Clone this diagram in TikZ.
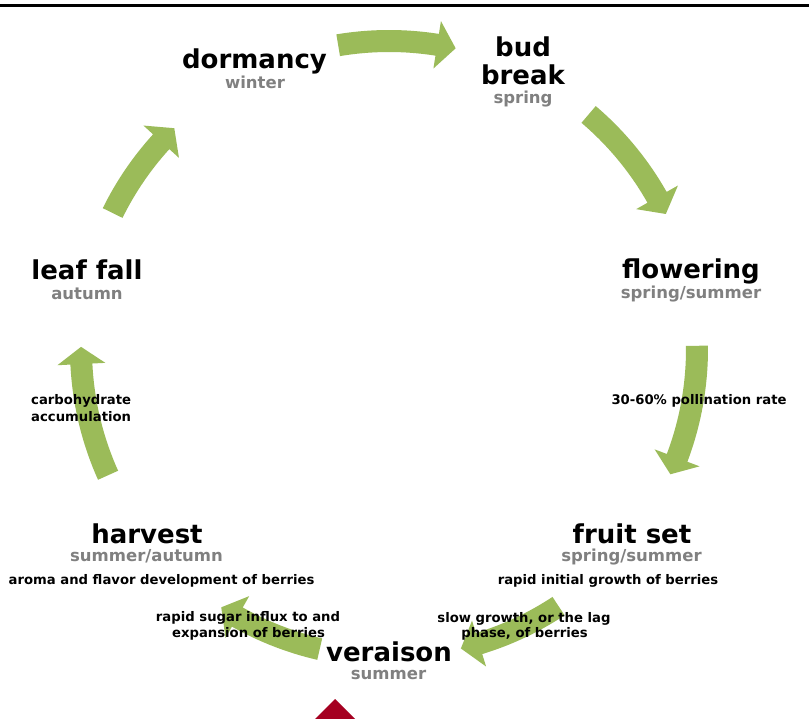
\documentclass[tikz,border=0pt]{standalone}
\usepackage{fontspec}
\setmainfont{DejaVu Sans}
\usetikzlibrary{calc}
\definecolor{arrowgreen}{RGB}{155,187,89}
\definecolor{seasongray}{RGB}{128,128,128}
\definecolor{markred}{RGB}{165,0,33}
\newcommand\cyclearrow[3]{%
  \fill[arrowgreen] ($(C)+(#1:319)$) arc[start angle=#1, end angle=#2, radius=319]
    -- ($(C)+(#2:332)$) -- ($(C)+(#3:308)$) -- ($(C)+(#2:284)$)
    -- ($(C)+(#2:297)$) arc[start angle=#2, end angle=#1, radius=297] -- cycle;}
\tikzset{
  title/.style={anchor=base, inner sep=0pt, font=\fontsize{26}{28}\selectfont\bfseries, text=black},
  season/.style={anchor=base, inner sep=0pt, font=\fontsize{16.5}{18}\selectfont\bfseries, text=seasongray},
  note/.style={anchor=base, inner sep=0pt, font=\fontsize{13.2}{16}\selectfont\bfseries, text=black},
}
\begin{document}
\begin{tikzpicture}[x=1pt, y=-1pt]
\useasboundingbox (0,0) rectangle (809,719);
\fill[white] (0,0) rectangle (809,719);
\fill[black] (0,4) rectangle (809,7.5);
\coordinate (C) at (389,349);
% arrows
\cyclearrow{-99.5}{-81}{-77.5}
\cyclearrow{-49.6}{-29.5}{-26}
\cyclearrow{-0.6}{20.7}{24}
\cyclearrow{56.6}{73}{76.5}
\cyclearrow{103}{119.5}{123}
\cyclearrow{155.8}{177.2}{180.4}
\cyclearrow{206.2}{222.3}{225.8}
% red marker
\begin{scope}
\clip (0,0) rectangle (809,719);
\fill[markred] (335,699) -- (357,721) -- (313,721) -- cycle;
\end{scope}
% labels
\node[title] (dormancy) at (254.5,69) {dormancy};
\node[season] (winter) at (255,89) {winter};
\node[title] (bud) at (523,57) {bud};
\node[title] (break) at (523,85) {break};
\node[season] (spring) at (523,104) {spring};
\node[title] (flowering) at (691,279) {flowering};
\node[season] (flowerseason) at (691,299) {spring/summer};
\node[note] (pollination) at (699,405) {30-60\% pollination rate};
\node[title] (fruitset) at (632,543) {fruit set};
\node[season] (fruitseason) at (631.5,561) {spring/summer};
\node[note] (initial) at (608,584) {rapid initial growth of berries};
\node[note] (slow1) at (524,622) {slow growth, or the lag};
\node[note] (slow2) at (524.5,637) {phase, of berries};
\node[title] (veraison) at (389,661) {veraison};
\node[season] (summer) at (388.5,679) {summer};
\node[note] (sugar1) at (248,621) {rapid sugar influx to and};
\node[note] (sugar2) at (248.5,637) {expansion of berries};
\node[title] (harvest) at (147,543) {harvest};
\node[season] (harvestseason) at (146.5,561) {summer/autumn};
\node[note] (aroma) at (161.5,584) {aroma and flavor development of berries};
\node[note, anchor=base west] (carbo1) at (31,405) {carbohydrate};
\node[note, anchor=base west] (carbo2) at (31,421) {accumulation};
\node[title] (leaffall) at (87,280) {leaf fall};
\node[season] (autumn) at (87,300) {autumn};
\end{tikzpicture}
\end{document}
